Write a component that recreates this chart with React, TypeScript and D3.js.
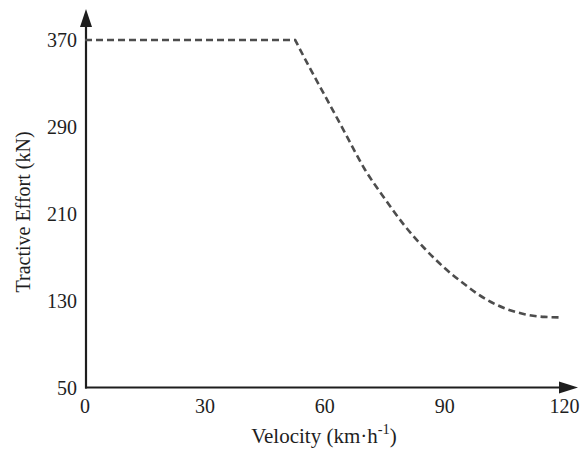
import React from "react";
import * as d3 from "d3";

// Tractive effort characteristic of the locomotive
const velocity = [0, 52.6, 56, 60, 65, 70, 75, 80, 85, 90, 95, 100, 105, 110, 115, 118.8];
const effort = [370, 370, 346, 319, 285, 251, 224, 199, 178, 160, 145, 132, 123, 117.5, 115, 114.6];
const xTicks = [0, 30, 60, 90, 120];
const yTicks = [50, 130, 210, 290, 370];

const W = 588;
const H = 451;

export default function App() {
  const x = d3.scaleLinear().domain([0, 120]).range([85, 564.5]);
  const y = d3.scaleLinear().domain([50, 370]).range([387.5, 40]);

  const pts = velocity.map((v, i) => [v, effort[i]] as [number, number]);
  // constant-force region up to the base speed, then the constant-power curve
  const flat = d3
    .line<[number, number]>()
    .x((d) => x(d[0]))
    .y((d) => y(d[1]))(pts.slice(0, 2)) as string;
  const curve = d3
    .line<[number, number]>()
    .x((d) => x(d[0]))
    .y((d) => y(d[1]))
    .curve(d3.curveMonotoneX)(pts.slice(1)) as string;
  const path = flat + curve.replace(/^M/, "L");

  const axisX = 86;
  const axisY = y(50);
  const font = "'Liberation Serif', 'Times New Roman', serif";
  const ink = "#1e1e1e";

  return (
    <svg
      width={W}
      height={H}
      style={{ position: "absolute", left: 0, top: 0, background: "#fff" }}
      fontFamily={font}
    >
      {/* axes with arrowheads */}
      <line x1={axisX} y1={axisY + 1} x2={axisX} y2={24} stroke={ink} strokeWidth={2.2} />
      <polygon points={`${axisX},9 ${axisX - 6},27 ${axisX + 6},27`} fill={ink} />
      <line x1={axisX - 1} y1={axisY} x2={562} y2={axisY} stroke={ink} strokeWidth={2.2} />
      <polygon
        points={`578,${axisY} 559,${axisY - 6} 559,${axisY + 6}`}
        fill={ink}
      />

      {/* tick labels */}
      {yTicks.map((t) => (
        <text
          key={"y" + t}
          x={77}
          y={y(t)}
          dy="0.35em"
          textAnchor="end"
          fontSize={20}
          fill={ink}
        >
          {t}
        </text>
      ))}
      {xTicks.map((t) => (
        <text key={"x" + t} x={x(t)} y={413} textAnchor="middle" fontSize={20} fill={ink}>
          {t}
        </text>
      ))}

      {/* axis titles */}
      <text x={324} y={443} textAnchor="middle" fontSize={21} fill={ink}>
        Velocity (km·h
        <tspan fontSize={14.5} dy={-9}>
          -1
        </tspan>
        <tspan dy={9}>)</tspan>
      </text>
      <text
        transform={`translate(30, 212) rotate(-90)`}
        textAnchor="middle"
        fontSize={20}
        fill={ink}
      >
        Tractive Effort (kN)
      </text>

      {/* characteristic curve */}
      <path
        d={path}
        fill="none"
        stroke="#4d4d4d"
        strokeWidth={2.6}
        strokeDasharray="7 4"
      />
    </svg>
  );
}
